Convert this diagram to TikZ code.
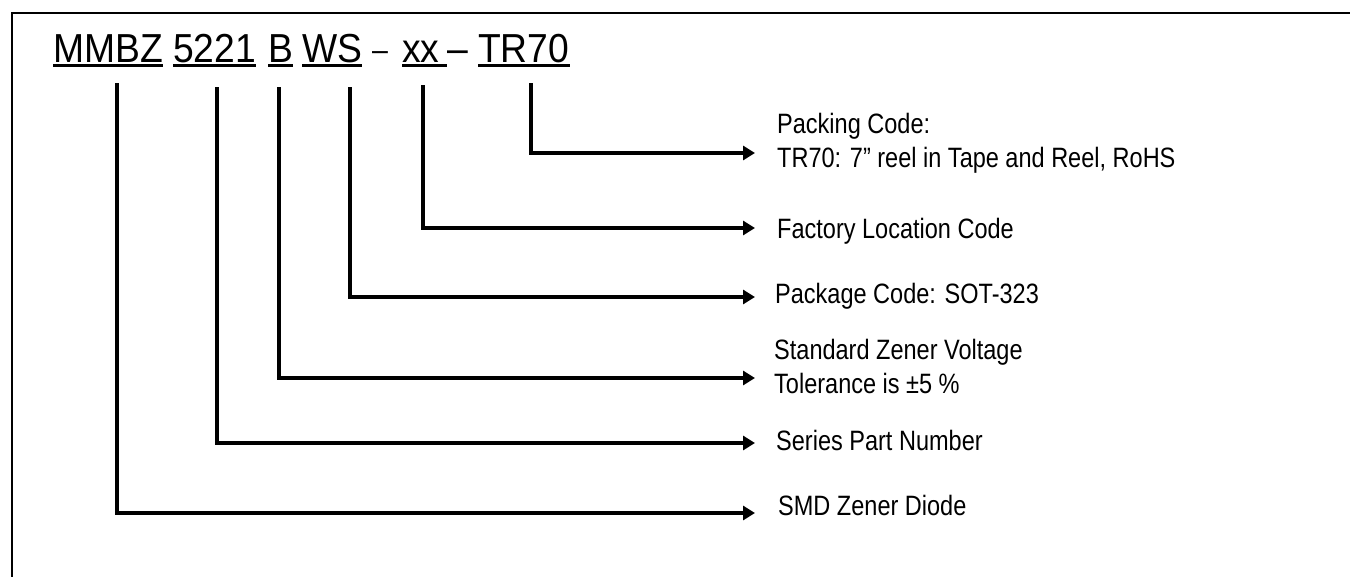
\documentclass[tikz,border=0pt]{standalone}
\usepackage{fontspec}
\setmainfont{Liberation Sans}
\newfontfamily\codefont{Liberation Sans}[FakeStretch=0.92]
\newfontfamily\notefont{Liberation Sans}[FakeStretch=0.84]
\usetikzlibrary{arrows.meta,positioning}

\tikzset{
    code/.style={font=\codefont\fontsize{40.5}{48}\selectfont,inner sep=0pt,anchor=base west},
    note/.style={font=\notefont\fontsize{28}{33.5}\selectfont,inner sep=0pt,anchor=base west,align=left},
    lead/.style={line width=3.5pt,line join=miter,-{Triangle[length=12pt,width=14pt]}},
    uline/.style={line width=3pt}
}

\begin{document}
\begin{tikzpicture}[x=1pt,y=-1pt]
        \useasboundingbox (0,0) rectangle (1350,576);
        % frame
        \draw[line width=1.8pt] (12,577) -- (12,13) -- (1351,13);
        % part number
        \node[code] (mmbz) at (53,62) {MMBZ};
        \node[code] (series) at (173,62) {5221};
        \node[code] (grade) at (268,62) {B};
        \node[code] (pkg) at (302,62) {WS};
        \node[code,font=\codefont\fontsize{31}{36}\selectfont] (dashA) at (372,60) {–};
        \node[code] (site) at (402,62) {xx};
        \node[code] (dashB) at (447,62) {–};
        \node[code] (packing) at (478,62) {TR70};
        \foreach \p in {mmbz,series,grade,pkg,packing}
        \draw[uline] ([yshift=-3pt]\p.base west) -- ([yshift=-3pt]\p.base east);
        \draw[uline] ([yshift=-3pt]site.base west) -- ([yshift=-3pt]dashB.base west);
        % descriptions (base = last line)
        \node[note] (packNote) at (777,167) {Packing Code:\\TR70: 7” reel in Tape and Reel, RoHS};
        \node[note] (siteNote) at (777,238) {Factory Location Code};
        \node[note] (pkgNote) at (775,303) {Package Code: SOT-323};
        \node[note] (gradeNote) at (774,393) {Standard Zener Voltage\\Tolerance is ±5 \%};
        \node[note] (seriesNote) at (776,450) {Series Part Number};
        \node[note] (mmbzNote) at (778,515) {SMD Zener Diode};
        % leaders
        \coordinate (mmbzTop) at (117,83);
        \coordinate (seriesTop) at (217,87);
        \coordinate (gradeTop) at (279,87);
        \coordinate (pkgTop) at (350,87);
        \coordinate (siteTop) at (423,85);
        \coordinate (packingTop) at (531,83);
        \coordinate (mmbzTip) at (755,513);
        \coordinate (seriesTip) at (755,443);
        \coordinate (gradeTip) at (755,378);
        \coordinate (pkgTip) at (755,297);
        \coordinate (siteTip) at (755,228);
        \coordinate (packingTip) at (755,153);
        \foreach \p in {mmbz,series,grade,pkg,site,packing}
        \draw[lead] (\p Top) |- (\p Tip);
    \end{tikzpicture}
\end{document}
